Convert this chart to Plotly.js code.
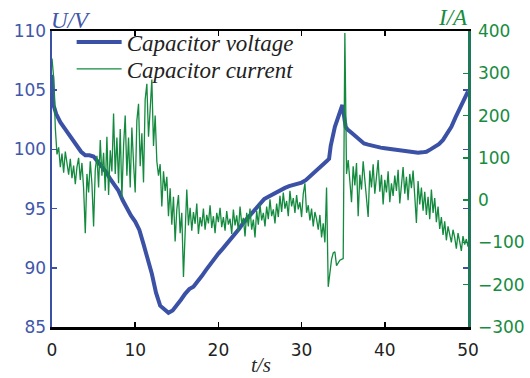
<!DOCTYPE html>
<html>
<head>
<meta charset="utf-8">
<script src="https://cdn.plot.ly/plotly-3.0.1.min.js"></script>
<style>html,body{margin:0;padding:0;background:#fff;}#chart{width:530px;height:378px;}</style>
</head>
<body>
<div id="chart"></div>
<script>
// Capacitor voltage (V) vs time (s)
const voltageTime = [0,0.2,0.5,1,1.5,2,2.5,3,3.5,4,4.5,5,5.5,6,6.5,7,7.5,8,8.5,9,9.5,10,10.5,11,11.5,12,12.5,13,13.5,14,14.5,15,15.5,16,16.5,17,17.5,18,18.5,19,19.5,20,20.5,21,21.5,22,22.5,23,23.5,24,24.5,25,25.5,26,26.5,27,27.5,28,28.5,29,29.5,30,30.5,31,31.5,32,32.5,33,33.3,33.5,34,34.5,34.9,35.3,35.5,36,36.5,37,37.5,38,38.5,39,39.5,40,40.5,41,41.5,42,42.5,43,43.5,44,44.5,45,45.5,46,46.5,47,47.5,48,48.5,49,49.5,50];
const voltage = [106.3,103.7,103.0,102.3,101.8,101.3,100.9,100.3,99.8,99.5,99.5,99.4,99.0,98.6,98.1,97.5,97.0,96.5,95.7,95.0,94.4,93.9,93.2,92.0,90.8,89.5,87.9,86.8,86.5,86.2,86.4,86.8,87.3,87.8,88.2,88.4,88.8,89.3,89.8,90.3,90.7,91.2,91.6,92.0,92.5,92.9,93.3,93.8,94.2,94.6,95.0,95.4,95.8,96.0,96.2,96.4,96.6,96.75,96.9,97.0,97.1,97.2,97.4,97.7,98.0,98.4,98.7,99.0,99.2,100.3,101.9,103.0,103.75,101.9,101.7,101.4,101.1,100.8,100.5,100.4,100.3,100.2,100.15,100.1,100.05,100.0,99.95,99.9,99.85,99.8,99.7,99.72,99.75,99.8,100.0,100.2,100.45,100.8,101.3,101.9,102.7,103.4,104.1,104.9];

// Capacitor current (A), sampled every currentStep seconds from t = 0
const currentStart = 0;
const currentStep = 0.2;
const current = [335,290,170,108,125,78,110,65,115,88,
60,98,52,82,38,78,100,48,88,28,
-78,62,18,92,38,-62,72,105,30,142,
58,112,22,150,12,118,68,205,62,148,
40,168,5,128,200,58,148,30,172,88,
18,188,228,80,158,42,238,275,150,215,
285,128,200,92,58,85,-15,68,22,55,
-38,28,-58,8,-98,-22,12,-78,-30,-182,
-52,25,-60,-18,-72,-28,-56,-8,-80,-40,
-62,-20,-70,-35,-55,-12,-66,-38,-78,-30,
-52,-18,-64,-40,-72,-26,-58,-44,-80,-22,
-60,-36,-74,-15,-55,-42,-86,-30,-62,-20,
-70,-46,-88,-25,-58,-10,-48,-30,-62,-15,
-45,2,-38,-22,-55,-8,-40,10,-28,18,
-20,-2,-38,22,-15,5,-30,12,-22,-5,
-40,15,40,-30,-12,-48,-20,-62,-28,-45,
-70,-35,-88,-55,-100,30,-205,-168,-140,-125,
-122,-155,-148,-142,-140,-138,395,62,95,40,
-5,80,35,88,-38,60,25,92,45,10,
-40,70,30,85,15,55,95,20,60,-10,
48,18,68,-5,40,10,58,22,72,-8,
35,78,15,55,0,62,28,70,10,-54,
45,-10,30,-25,20,-35,8,-45,25,-30,
5,-52,-15,-68,-40,-82,-50,-95,-62,-80,
-100,-70,-88,-115,-78,-98,-120,-85,-105,-92,
-110];
const currentTime = current.map((_, i) => +(currentStart + i * currentStep).toFixed(2));

const xTicks = [0,10,20,30,40,50];
const leftTicks = [85,90,95,100,105,110];
const rightTicks = [-300,-200,-100,0,100,200,300,400];
const seriesNames = ['Capacitor voltage','Capacitor current'];

const BLUE = '#3b51a6';
const BLUE_TXT = '#4157aa';
const GREEN = '#138a3e';
const GREEN_TXT = '#178c3f';
const GREEN_AXIS = '#1e7858';

const traces = [
  {x: voltageTime, y: voltage, type: 'scatter', mode: 'lines', name: seriesNames[0],
   line: {color: BLUE, width: 4}, xaxis: 'x', yaxis: 'y', legend: 'legend'},
  {x: currentTime, y: current, type: 'scatter', mode: 'lines', name: seriesNames[1],
   line: {color: GREEN, width: 1.3}, xaxis: 'x2', yaxis: 'y2', legend: 'legend2'}
];

const legendFont = {family: 'Liberation Serif', size: 23, color: '#222', style: 'italic'};
const legendBase = {xanchor: 'left', yanchor: 'middle', bgcolor: 'rgba(0,0,0,0)', itemwidth: 45,
                    font: legendFont, borderwidth: 0};
const tickFont = {family: 'DejaVu Sans', size: 17};
const layout = {
  width: 530, height: 378,
  margin: {l: 52, r: 62, t: 31, b: 51, pad: 0},
  paper_bgcolor: '#fff', plot_bgcolor: '#fff',
  showlegend: true,
  legend: Object.assign({x: 0.0472, y: 0.963}, legendBase),
  legend2: Object.assign({x: 0.0472, y: 0.872}, legendBase),
  xaxis: {range: [0, 50], tickvals: xTicks, ticks: 'inside', ticklen: 5, tickwidth: 1.5, tickcolor: '#000',
          showline: true, linecolor: '#000', linewidth: 3, showgrid: false, zeroline: false,
          tickfont: Object.assign({color: '#222'}, tickFont), anchor: 'y', ticklabelstandoff: 6},
  xaxis2: {range: [0, 50], tickvals: xTicks, ticks: 'inside', ticklen: 5, tickwidth: 1.5, tickcolor: '#000',
           overlaying: 'x', side: 'top', anchor: 'y2', showticklabels: false,
           showline: true, linecolor: '#000', linewidth: 1.8, showgrid: false, zeroline: false},
  yaxis: {range: [85, 110], tickvals: leftTicks, ticks: 'inside', ticklen: 5, tickwidth: 1.5, tickcolor: BLUE,
          showline: true, linecolor: BLUE, linewidth: 2.5, mirror: 'ticks', showgrid: false, zeroline: false,
          tickfont: Object.assign({color: BLUE_TXT}, tickFont), anchor: 'x'},
  yaxis2: {range: [-300, 400], tickvals: rightTicks, ticks: 'inside', ticklen: 5, tickwidth: 1.5, tickcolor: GREEN,
           overlaying: 'y', side: 'right', anchor: 'x2',
           showline: true, linecolor: GREEN_AXIS, linewidth: 2.5, showgrid: false, zeroline: false,
           tickfont: Object.assign({color: GREEN_TXT}, tickFont), ticklabelstandoff: 4},
  annotations: [
    {text: '<i>U/V</i>', xref: 'paper', yref: 'paper', x: -0.007, y: 1.037, xanchor: 'left', yanchor: 'middle',
     showarrow: false, font: {family: 'Liberation Serif', size: 23, color: BLUE_TXT}},
    {text: '<i>I/A</i>', xref: 'paper', yref: 'paper', x: 1.006, y: 1.044, xanchor: 'right', yanchor: 'middle',
     showarrow: false, font: {family: 'Liberation Serif', size: 23, color: GREEN_TXT}},
    {text: '<i>t/s</i>', xref: 'paper', yref: 'paper', x: 0.502, y: -0.127, xanchor: 'center', yanchor: 'middle',
     showarrow: false, font: {family: 'Liberation Serif', size: 21, color: '#2a2a2a'}}
  ]
};

Plotly.newPlot('chart', traces, layout, {displayModeBar: false, staticPlot: true});
</script>
</body>
</html>
